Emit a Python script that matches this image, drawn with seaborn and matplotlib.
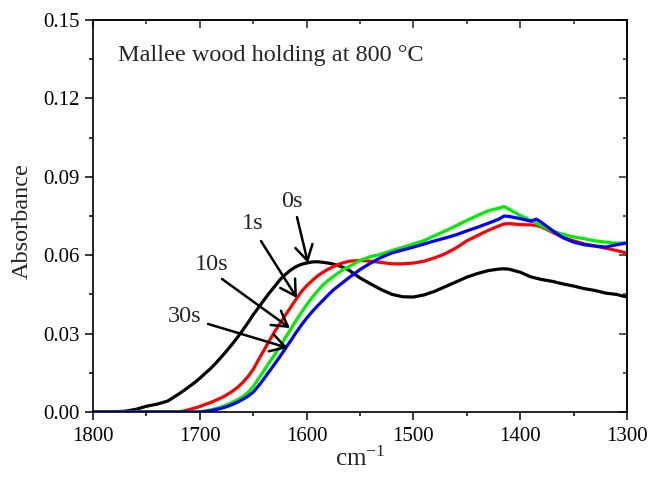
import numpy as np
import pandas as pd
import matplotlib
matplotlib.use("Agg")
import matplotlib.pyplot as plt
from matplotlib.ticker import MultipleLocator, FormatStrFormatter
import seaborn as sns

# ---------------- data ----------------
wavenumber = [1800, 1790, 1780, 1770, 1760, 1750, 1740, 1730,
              1720, 1715, 1710, 1705, 1700, 1695, 1690, 1685, 1680, 1675, 1670,
              1665, 1660, 1655, 1650, 1645, 1640, 1635, 1630, 1625, 1620, 1615,
              1610, 1605, 1600, 1595, 1590, 1585, 1580, 1575, 1570, 1565, 1560,
              1550, 1540, 1530, 1520, 1510, 1500, 1490, 1480, 1470, 1460, 1450,
              1440, 1430, 1420, 1415,
              1410, 1400, 1390, 1385, 1380, 1370, 1360, 1350, 1340, 1330, 1320,
              1310, 1300]

abs_0s = [0.0000, 0.0000, 0.0001, 0.0003, 0.0010, 0.0022, 0.0030, 0.0042,
          0.0068, 0.0082, 0.0097, 0.0112, 0.0129, 0.0148, 0.0166, 0.0187, 0.0210, 0.0233, 0.0258,
          0.0284, 0.0312, 0.0341, 0.0372, 0.0400, 0.0428, 0.0455, 0.0480, 0.0506, 0.0526, 0.0543,
          0.0556, 0.0565, 0.0570, 0.0574, 0.0575, 0.0573, 0.0570, 0.0566, 0.0560, 0.0552, 0.0542,
          0.0513, 0.0490, 0.0468, 0.0450, 0.0441, 0.0440, 0.0448, 0.0462, 0.0480, 0.0498, 0.0516,
          0.0530, 0.0541, 0.0547, 0.0548,
          0.0546, 0.0535, 0.0517, 0.0512, 0.0507, 0.0500, 0.0490, 0.0482, 0.0472, 0.0465, 0.0455,
          0.0450, 0.0440]

abs_1s = [0.0000, 0.0000, 0.0000, 0.0000, 0.0000, 0.0000, 0.0000, 0.0000,
          0.0000, 0.0004, 0.0009, 0.0015, 0.0021, 0.0029, 0.0036, 0.0045, 0.0054, 0.0065, 0.0078,
          0.0093, 0.0112, 0.0135, 0.0163, 0.0200, 0.0236, 0.0272, 0.0307, 0.0338, 0.0370, 0.0400,
          0.0431, 0.0460, 0.0483, 0.0502, 0.0520, 0.0534, 0.0546, 0.0556, 0.0565, 0.0572, 0.0577,
          0.0580, 0.0577, 0.0572, 0.0567, 0.0567, 0.0570, 0.0577, 0.0590, 0.0606, 0.0628, 0.0655,
          0.0675, 0.0695, 0.0712, 0.0720,
          0.0721, 0.0717, 0.0716, 0.0714, 0.0708, 0.0688, 0.0668, 0.0655, 0.0643, 0.0635, 0.0627,
          0.0618, 0.0608]

abs_10s = [0.0000, 0.0000, 0.0000, 0.0000, 0.0000, 0.0000, 0.0000, 0.0000,
           0.0000, 0.0000, 0.0000, 0.0000, 0.0001, 0.0004, 0.0008, 0.0013, 0.0019, 0.0027, 0.0036,
           0.0046, 0.0058, 0.0074, 0.0097, 0.0127, 0.0158, 0.0189, 0.0219, 0.0250, 0.0283, 0.0316,
           0.0349, 0.0380, 0.0410, 0.0437, 0.0462, 0.0485, 0.0503, 0.0518, 0.0533, 0.0547, 0.0557,
           0.0580, 0.0595, 0.0604, 0.0618, 0.0630, 0.0643, 0.0656, 0.0675, 0.0693, 0.0713, 0.0733,
           0.0752, 0.0770, 0.0780, 0.0786,
           0.0775, 0.0752, 0.0733, 0.0722, 0.0712, 0.0692, 0.0680, 0.0670, 0.0663, 0.0655, 0.0650,
           0.0646, 0.0647]

abs_30s = [0.0000, 0.0000, 0.0000, 0.0000, 0.0000, 0.0000, 0.0000, 0.0000,
           0.0000, 0.0000, 0.0000, 0.0000, 0.0000, 0.0002, 0.0005, 0.0009, 0.0014, 0.0020, 0.0028,
           0.0037, 0.0048, 0.0060, 0.0076, 0.0100, 0.0127, 0.0155, 0.0183, 0.0212, 0.0242, 0.0272,
           0.0303, 0.0332, 0.0359, 0.0383, 0.0405, 0.0426, 0.0447, 0.0467, 0.0483, 0.0499, 0.0515,
           0.0545, 0.0570, 0.0592, 0.0609, 0.0620, 0.0631, 0.0643, 0.0655, 0.0666, 0.0678, 0.0693,
           0.0707, 0.0722, 0.0738, 0.0750,
           0.0748, 0.0740, 0.0730, 0.0738, 0.0725, 0.0695, 0.0667, 0.0650, 0.0640, 0.0635, 0.0631,
           0.0640, 0.0647]

series_names = ["0s", "1s", "10s", "30s"]
series_colors = ["#000000", "#ff0000", "#00ee00", "#0000ff"]

# annotation labels and arrows (label pos, arrow tail, arrow tip) in data units
label_pos = [(1613.7, 0.0804), (1650.2, 0.0723), (1688.6, 0.0563), (1713.9, 0.0364)]
arrow_tail = [(1609.0, 0.0746), (1642.7, 0.0654), (1679.2, 0.0509), (1692.3, 0.0337)]
arrow_tip = [(1598.7, 0.0570), (1609.0, 0.0436), (1615.6, 0.0321), (1617.4, 0.0245)]

title_text = "Mallee wood holding at 800 °C"
x_ticks = [1800, 1700, 1600, 1500, 1400, 1300]
y_ticks = [0.00, 0.03, 0.06, 0.09, 0.12, 0.15]

# ---------------- build table ----------------
frames = []
for name, vals in zip(series_names, [abs_0s, abs_1s, abs_10s, abs_30s]):
    frames.append(pd.DataFrame({"wavenumber": wavenumber, "absorbance": vals, "time": name}))
df = pd.concat(frames, ignore_index=True)

# ---------------- style ----------------
sns.set_theme(style="ticks")
plt.rcParams["font.family"] = ["Liberation Serif", "DejaVu Serif"]
plt.rcParams["mathtext.fontset"] = "custom"
plt.rcParams["mathtext.rm"] = "Liberation Serif"
plt.rcParams["mathtext.it"] = "Liberation Serif:italic"

fig = plt.figure(figsize=(6.52, 4.79), dpi=100)
ax = fig.add_axes([93 / 652, 1 - 412 / 479, (627 - 93) / 652, (412 - 20) / 479])

sns.lineplot(data=df, x="wavenumber", y="absorbance", hue="time",
             hue_order=series_names, palette=dict(zip(series_names, series_colors)),
             linewidth=2.3, legend=False, ax=ax)

ax.set_xlim(1800, 1300)
ax.set_ylim(0, 0.15)
ax.set_xticks(x_ticks)
ax.set_yticks(y_ticks)
ax.xaxis.set_minor_locator(MultipleLocator(50))
ax.yaxis.set_minor_locator(MultipleLocator(0.015))
ax.yaxis.set_major_formatter(FormatStrFormatter("%.2f"))

for sp in ax.spines.values():
    sp.set_linewidth(1.2)
    sp.set_color("black")
    sp.set_visible(True)

ax.tick_params(which="both", direction="out", width=1.1, colors="black",
               labelsize=15, top=False, right=False)
ax.tick_params(which="major", length=6)
ax.tick_params(which="minor", length=3)
ax.tick_params(axis="x", which="major", pad=5)

# top / right ticks pointing inward
secx = ax.secondary_xaxis("top")
secx.set_xticks(x_ticks)
secx.xaxis.set_minor_locator(MultipleLocator(50))
secx.tick_params(which="both", direction="in", width=1.1, labeltop=False)
secx.tick_params(which="major", length=6)
secx.tick_params(which="minor", length=3)
secx.spines["top"].set_linewidth(1.2)

secy = ax.secondary_yaxis("right")
secy.set_yticks(y_ticks)
secy.yaxis.set_minor_locator(MultipleLocator(0.015))
secy.tick_params(which="both", direction="in", width=1.1, labelright=False)
secy.tick_params(which="major", length=6)
secy.tick_params(which="minor", length=3)
secy.spines["right"].set_linewidth(1.2)

ax.set_xlabel("cm$^{-1}$", fontsize=18)
ax.set_ylabel("Absorbance", fontsize=17.5)
ax.xaxis.set_label_coords(0.5, -0.088)
ax.yaxis.set_label_coords(-0.112, 0.487)

ax.text(1776.6, 0.1366, title_text, fontsize=17.5, ha="left", va="center")

for name, lp, tail, tip in zip(series_names, label_pos, arrow_tail, arrow_tip):
    ax.text(lp[0], lp[1], name, fontsize=17.5, ha="center", va="center")
    ax.annotate("", xy=tip, xytext=tail,
                arrowprops=dict(arrowstyle="->,head_length=0.6,head_width=0.35",
                                lw=1.8, color="black", shrinkA=0, shrinkB=0,
                                mutation_scale=18))

fig.savefig("out.png", dpi=100)
